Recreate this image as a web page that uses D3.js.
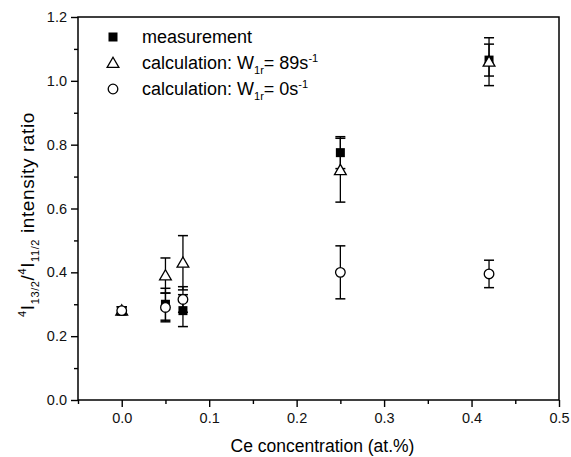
<!DOCTYPE html>
<html>
<head>
<meta charset="utf-8">
<script src="https://cdn.jsdelivr.net/npm/d3@7"></script>
<style>
  body { margin: 0; background: #fff; }
  svg { display: block; font-family: "Liberation Sans", Arial, sans-serif; }
</style>
</head>
<body>
<div id="chart"></div>
<script>
// Ce concentration (at.%)
const conc = [0.0, 0.05, 0.07, 0.25, 0.42];

// measured ratio and its error
const measured = [0.28, 0.30, 0.28, 0.775, 1.065];
const measuredErr = [0.012, 0.05, 0.05, 0.05, 0.05];

// calculation W1r = 89 s^-1
const calc89 = [0.28, 0.39, 0.43, 0.72, 1.06];
const calc89Err = [0.012, 0.055, 0.085, 0.10, 0.075];

// calculation W1r = 0 s^-1
const calc0 = [0.28, 0.29, 0.315, 0.40, 0.395];
const calc0Err = [0.012, 0.045, 0.04, 0.083, 0.043];

const xTicks = [0.0, 0.1, 0.2, 0.3, 0.4, 0.5];
const yTicks = [0.0, 0.2, 0.4, 0.6, 0.8, 1.0, 1.2];

const W = 571, H = 457;
const margin = {top: 17, right: 12, bottom: 57, left: 78};

const svg = d3.select("#chart").append("svg")
    .attr("width", W)
    .attr("height", H);

const x = d3.scaleLinear().domain([-0.05, 0.5]).range([margin.left, W - margin.right]);
const y = d3.scaleLinear().domain([0, 1.2]).range([H - margin.bottom, margin.top]);

// frame
svg.append("rect")
    .attr("x", x(-0.05)).attr("y", y(1.2))
    .attr("width", x(0.5) - x(-0.05))
    .attr("height", y(0) - y(1.2))
    .attr("fill", "none")
    .attr("stroke", "#000")
    .attr("stroke-width", 1.5);

// minor ticks
const xMinor = d3.range(-0.05, 0.5001, 0.05).map(d => +d.toFixed(2)).filter(d => !xTicks.includes(d));
const yMinor = d3.range(0.1, 1.2, 0.2).map(d => +d.toFixed(1));

svg.append("g")
    .attr("transform", `translate(0,${y(0)})`)
    .call(d3.axisBottom(x).tickValues(xMinor).tickSize(4).tickFormat(""))
    .call(g => g.select(".domain").remove());

svg.append("g")
    .attr("transform", `translate(${x(-0.05)},0)`)
    .call(d3.axisLeft(y).tickValues(yMinor).tickSize(4).tickFormat(""))
    .call(g => g.select(".domain").remove());

const xAxis = svg.append("g")
    .attr("transform", `translate(0,${y(0)})`)
    .call(d3.axisBottom(x).tickValues(xTicks).tickSize(7).tickPadding(6).tickFormat(d3.format(".1f")));
xAxis.select(".domain").remove();

const yAxis = svg.append("g")
    .attr("transform", `translate(${x(-0.05)},0)`)
    .call(d3.axisLeft(y).tickValues(yTicks).tickSize(7).tickPadding(4).tickFormat(d3.format(".1f")));
yAxis.select(".domain").remove();

svg.selectAll(".tick line").attr("stroke-width", 1.4);
svg.selectAll(".tick text").attr("font-size", 14.5).attr("fill", "#111")
    .attr("font-family", "'Liberation Sans', Arial, sans-serif");

// axis titles
svg.append("text")
    .attr("x", (x(-0.05) + x(0.5)) / 2 + 4)
    .attr("y", 452)
    .attr("text-anchor", "middle")
    .attr("font-size", 17.5)
    .text("Ce concentration (at.%)");

const yt = svg.append("text")
    .attr("transform", `translate(34,${(y(0) + y(1.2)) / 2 + 6}) rotate(-90)`)
    .attr("text-anchor", "middle")
    .attr("font-size", 19)
    .attr("letter-spacing", 0.6);
yt.append("tspan").attr("font-size", 11).attr("dy", -8).text("4");
yt.append("tspan").attr("dy", 8).text("I");
yt.append("tspan").attr("font-size", 11).attr("dy", 5).text("13/2");
yt.append("tspan").attr("dy", -5).text("/");
yt.append("tspan").attr("font-size", 11).attr("dy", -8).text("4");
yt.append("tspan").attr("dy", 8).text("I");
yt.append("tspan").attr("font-size", 11).attr("dy", 5).text("11/2");
yt.append("tspan").attr("dy", -5).text(" intensity ratio");

// data series
const series = [
  {name: "measurement", vals: measured, err: measuredErr, shape: "square"},
  {name: "calc89", vals: calc89, err: calc89Err, shape: "triangle"},
  {name: "calc0", vals: calc0, err: calc0Err, shape: "circle"}
];

const capW = 5;

function drawMarker(g, shape, cx, cy) {
  if (shape === "square") {
    g.append("rect")
      .attr("x", cx - 4.5).attr("y", cy - 4.5)
      .attr("width", 9).attr("height", 9)
      .attr("fill", "#000");
  } else if (shape === "triangle") {
    const s = d3.symbol().type(d3.symbolTriangle).size(60);
    g.append("path")
      .attr("d", s())
      .attr("transform", `translate(${cx},${cy + 1})`)
      .attr("fill", "#fff")
      .attr("stroke", "#000")
      .attr("stroke-width", 1.3);
  } else {
    g.append("circle")
      .attr("cx", cx).attr("cy", cy).attr("r", 4.8)
      .attr("fill", "#fff")
      .attr("stroke", "#000")
      .attr("stroke-width", 1.3);
  }
}

series.forEach(s => {
  const g = svg.append("g");
  conc.forEach((c, i) => {
    const px = x(c);
    const lo = y(s.vals[i] - s.err[i]), hi = y(s.vals[i] + s.err[i]);
    g.append("line")
      .attr("x1", px).attr("x2", px).attr("y1", lo).attr("y2", hi)
      .attr("stroke", "#000").attr("stroke-width", 1.3);
    [lo, hi].forEach(v => {
      g.append("line")
        .attr("x1", px - capW).attr("x2", px + capW).attr("y1", v).attr("y2", v)
        .attr("stroke", "#000").attr("stroke-width", 1.5);
    });
  });
  conc.forEach((c, i) => drawMarker(g, s.shape, x(c), y(s.vals[i])));
});

// legend
const legend = svg.append("g").attr("font-size", 18);
const legendRows = [
  {shape: "square", label: "measurement", sub: null},
  {shape: "triangle", label: "calculation: W", sub: ["1r", "= 89s", "-1"]},
  {shape: "circle", label: "calculation: W", sub: ["1r", "= 0s", "-1"]}
];
legendRows.forEach((r, i) => {
  const cy = 37 + i * 26;
  drawMarker(legend, r.shape, 113, cy);
  const t = legend.append("text").attr("x", 142).attr("y", cy + 6);
  t.append("tspan").text(r.label);
  if (r.sub) {
    t.append("tspan").attr("font-size", 11).attr("dy", 5).text(r.sub[0]);
    t.append("tspan").attr("dy", -5).text(r.sub[1]);
    t.append("tspan").attr("font-size", 11).attr("dy", -7).text(r.sub[2]);
  }
});
</script>
</body>
</html>
